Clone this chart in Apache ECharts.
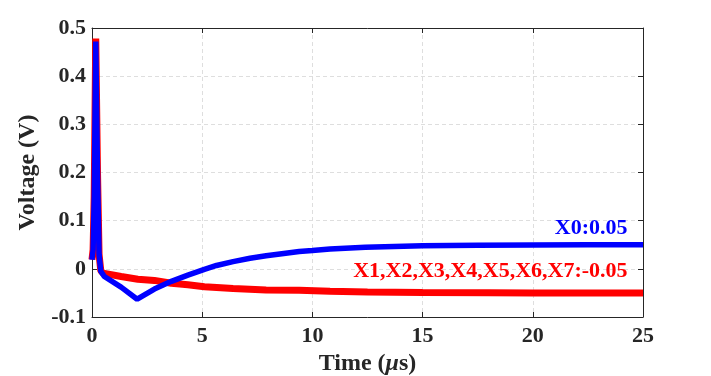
<!DOCTYPE html>
<html>
<head>
<meta charset="utf-8">
<script src="https://cdn.jsdelivr.net/npm/echarts@6/dist/echarts.min.js"></script>
<style>
    html, body { margin: 0; padding: 0; background: #fff; }
    #chart { width: 711px; height: 376px; }
</style>
</head>
<body>
<div id="chart"></div>
<script>
    // time in microseconds, voltage in volts
    var x0Time = [0, 0.05, 0.1, 0.17, 0.25, 0.32, 0.4, 0.56, 1.32, 2.05, 2.83, 3.6, 4.35, 5.1, 5.65, 6.4, 7.17, 7.9, 8.7, 9.4, 10, 10.8, 12.4, 15, 17.5, 20, 22.5, 25];
    var x0Volt = [0.019, 0.04, 0.15, 0.472, 0.2, 0.03, -0.005, -0.016, -0.038, -0.063, -0.042, -0.026, -0.013, -0.001, 0.007, 0.015, 0.022, 0.027, 0.032, 0.036, 0.038, 0.041, 0.045, 0.048, 0.049, 0.0497, 0.05, 0.05];

    var xnTime = [0, 0.05, 0.1, 0.17, 0.25, 0.32, 0.4, 0.5, 1.32, 2.08, 2.83, 3.6, 4.35, 5.1, 6.4, 7.9, 9.4, 10.8, 12.5, 15, 18, 20, 25];
    var xnVolt = [0.019, 0.04, 0.15, 0.478, 0.2, 0.03, -0.004, -0.009, -0.016, -0.0215, -0.024, -0.03, -0.033, -0.037, -0.041, -0.044, -0.0445, -0.0465, -0.048, -0.049, -0.0495, -0.05, -0.05];

    var xTicks = [0, 5, 10, 15, 20, 25];
    var yTicks = [-0.1, 0, 0.1, 0.2, 0.3, 0.4, 0.5];

    var labelX0 = 'X0:0.05';
    var labelXn = 'X1,X2,X3,X4,X5,X6,X7:-0.05';

    function pairs(xs, ys) {
        var out = [];
        for (var i = 0; i < xs.length; i++) {
            out.push([xs[i], ys[i]]);
        }
        return out;
    }

    var font = 'Liberation Serif';
    var axisColor = '#262626';

    var chart = echarts.init(document.getElementById('chart'));
    var option = {
        animation: false,
        grid: {
            left: 92,
            right: 68,
            top: 28,
            bottom: 59,
            outerBoundsMode: 'none',
            containLabel: false,
            show: false
        },
        xAxis: [
            {
                type: 'value',
                min: xTicks[0],
                max: xTicks[xTicks.length - 1],
                interval: 5,
                name: '{n|Time (}{i|μ}{n|s)}',
                nameLocation: 'middle',
                nameGap: 35,
                nameTextStyle: {
                    rich: {
                        n: { fontFamily: font, fontWeight: 'bold', fontSize: 24, color: axisColor },
                        i: { fontFamily: font, fontWeight: 'bold', fontStyle: 'italic', fontSize: 24, color: axisColor }
                    }
                },
                axisLine: { show: true, onZero: false, lineStyle: { color: axisColor, width: 1 } },
                axisTick: { show: true, inside: true, length: 5, lineStyle: { color: axisColor } },
                axisLabel: { fontFamily: font, fontWeight: 'bold', fontSize: 22, color: axisColor, margin: 8 },
                splitLine: { show: true, lineStyle: { color: '#dedede', type: [4, 3], width: 1 } }
            },
            {
                type: 'value',
                position: 'top',
                min: xTicks[0],
                max: xTicks[xTicks.length - 1],
                interval: 5,
                axisLine: { show: true, onZero: false, lineStyle: { color: axisColor, width: 1 } },
                axisTick: { show: true, inside: true, length: 5, lineStyle: { color: axisColor } },
                axisLabel: { show: false },
                splitLine: { show: false }
            }
        ],
        yAxis: [
            {
                type: 'value',
                min: yTicks[0],
                max: yTicks[yTicks.length - 1],
                interval: 0.1,
                name: 'Voltage (V)',
                nameLocation: 'middle',
                nameGap: 42,
                nameTextStyle: { fontFamily: font, fontWeight: 'bold', fontSize: 24, color: axisColor },
                axisLine: { show: true, onZero: false, lineStyle: { color: axisColor, width: 1 } },
                axisTick: { show: true, inside: true, length: 5, lineStyle: { color: axisColor } },
                axisLabel: {
                    fontFamily: font, fontWeight: 'bold', fontSize: 22, color: axisColor, margin: 6,
                    formatter: function (v) {
                        var r = Math.round(v * 10) / 10;
                        return r === 0 ? '0' : String(r);
                    }
                },
                splitLine: { show: true, lineStyle: { color: '#dedede', type: [4, 3], width: 1 } }
            },
            {
                type: 'value',
                position: 'right',
                min: yTicks[0],
                max: yTicks[yTicks.length - 1],
                interval: 0.1,
                axisLine: { show: true, onZero: false, lineStyle: { color: axisColor, width: 1 } },
                axisTick: { show: true, inside: true, length: 5, lineStyle: { color: axisColor } },
                axisLabel: { show: false },
                splitLine: { show: false }
            }
        ],
        series: [
            {
                name: labelXn,
                type: 'line',
                data: pairs(xnTime, xnVolt),
                showSymbol: false,
                smooth: false,
                lineStyle: { color: '#ff0000', width: 7 },
                itemStyle: { color: '#ff0000' },
                z: 2,
                markPoint: {
                    symbol: 'circle',
                    symbolSize: 0,
                    data: [{ coord: [24.3, -0.006] }],
                    label: {
                        show: true,
                        position: 'left',
                        distance: 0,
                        formatter: labelXn,
                        fontFamily: font, fontWeight: 'bold', fontSize: 22, color: '#ff0000'
                    }
                }
            },
            {
                name: labelX0,
                type: 'line',
                data: pairs(x0Time, x0Volt),
                showSymbol: false,
                smooth: false,
                lineStyle: { color: '#0000ff', width: 5.5 },
                itemStyle: { color: '#0000ff' },
                z: 3,
                markPoint: {
                    symbol: 'circle',
                    symbolSize: 0,
                    data: [{ coord: [24.3, 0.085] }],
                    label: {
                        show: true,
                        position: 'left',
                        distance: 0,
                        formatter: labelX0,
                        fontFamily: font, fontWeight: 'bold', fontSize: 22, color: '#0000ff'
                    }
                }
            }
        ]
    };
    chart.setOption(option);
</script>
</body>
</html>
